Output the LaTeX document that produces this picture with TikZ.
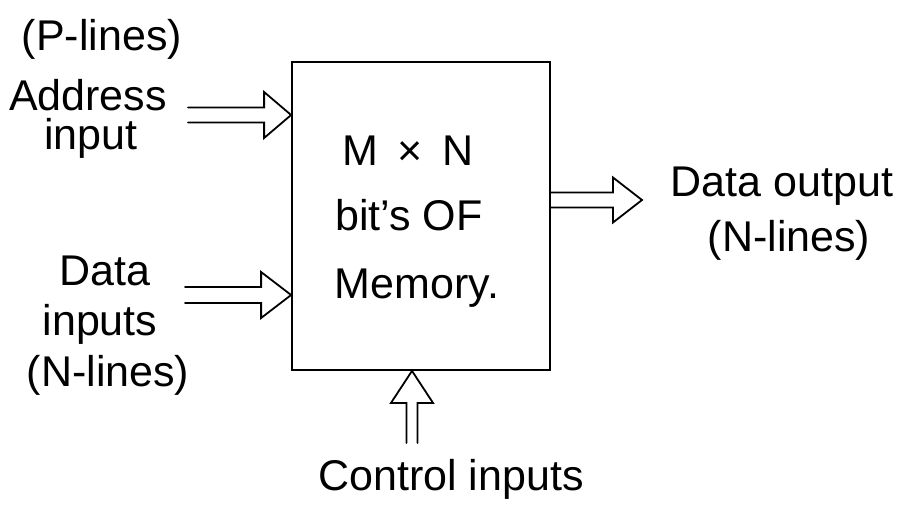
\documentclass[tikz,border=0pt]{standalone}
\usepackage{fontspec}
\setmainfont{Liberation Sans}
\begin{document}
\begin{tikzpicture}[x=1pt,y=-1pt,
  lbl/.style={font=\fontsize{43}{45}\selectfont, inner sep=0pt, anchor=base},
  wire/.style={line width=1.8pt, line join=miter, line cap=round}]
\useasboundingbox (0,0) rectangle (918,504);
% memory block
\node[draw, line width=1.8pt, minimum width=258pt, minimum height=308pt, inner sep=0pt] (mem) at (421,216) {};
\node[lbl] (mxn) at (408,165) {M \,×\, N};
\node[lbl] (bits) at (409,230) {bit's OF};
\node[lbl] (memory) at (417,298) {Memory.};
% labels
\node[lbl] (plines) at (102,50) {(P-lines)};
\node[lbl] (address) at (88,110) {Address};
\node[lbl] (input) at (91,149) {input};
\node[lbl] (data) at (105,285) {Data};
\node[lbl] (inputs) at (100,335) {inputs};
\node[lbl] (nlinesL) at (108,386) {(N-lines)};
\node[lbl] (dataout) at (782,196) {Data output};
\node[lbl] (nlinesR) at (789,251) {(N-lines)};
\node[lbl] (control) at (451,490) {Control inputs};
% free ends
\coordinate (addrStart) at (188,115);
\coordinate (dinStart) at (185,295);
\coordinate (doutEnd) at (642,200);
\coordinate (ctrlStart) at (412,443);
% tips on the block border
\coordinate (addrTip) at (mem.west |- addrStart);
\coordinate (dinTip) at (mem.west |- dinStart);
\coordinate (doutTail) at (mem.east |- doutEnd);
\coordinate (ctrlTip) at (ctrlStart |- mem.south);
% address input arrow
\draw[wire] ([yshift=7.5pt]addrStart) -- ([xshift=-27pt,yshift=7.5pt]addrTip)
  -- ([xshift=-27pt,yshift=23pt]addrTip) -- (addrTip)
  -- ([xshift=-27pt,yshift=-23pt]addrTip) -- ([xshift=-27pt,yshift=-7.5pt]addrTip)
  -- ([yshift=-7.5pt]addrStart);
% data input arrow
\draw[wire] ([yshift=8pt]dinStart) -- ([xshift=-30pt,yshift=8pt]dinTip)
  -- ([xshift=-30pt,yshift=23pt]dinTip) -- (dinTip)
  -- ([xshift=-30pt,yshift=-23pt]dinTip) -- ([xshift=-30pt,yshift=-8pt]dinTip)
  -- ([yshift=-8pt]dinStart);
% data output arrow
\draw[wire] ([yshift=7.5pt]doutTail) -- ([xshift=-29pt,yshift=7.5pt]doutEnd)
  -- ([xshift=-29pt,yshift=22.5pt]doutEnd) -- (doutEnd)
  -- ([xshift=-29pt,yshift=-22.5pt]doutEnd) -- ([xshift=-29pt,yshift=-7.5pt]doutEnd)
  -- ([yshift=-7.5pt]doutTail);
% control input arrow
\draw[wire] ([xshift=-5.5pt]ctrlStart) -- ([xshift=-5.5pt,yshift=-32pt]ctrlTip)
  -- ([xshift=-21pt,yshift=-32pt]ctrlTip) -- (ctrlTip)
  -- ([xshift=21pt,yshift=-32pt]ctrlTip) -- ([xshift=5.5pt,yshift=-32pt]ctrlTip)
  -- ([xshift=5.5pt]ctrlStart);
\end{tikzpicture}
\end{document}
